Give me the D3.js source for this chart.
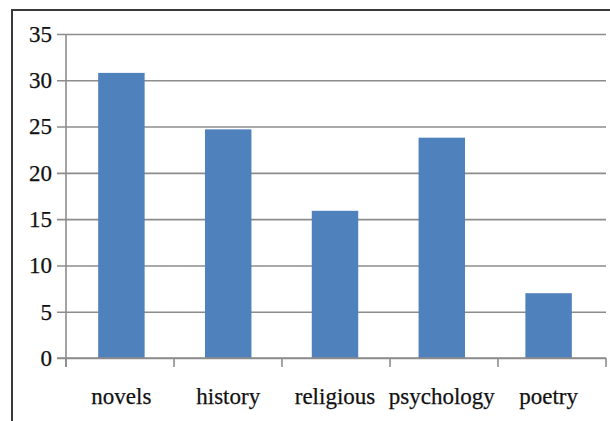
<!DOCTYPE html>
<html>
<head>
<meta charset="utf-8">
<script src="https://cdn.jsdelivr.net/npm/d3@7"></script>
<style>
  body { margin: 0; background: #fff; }
  svg { display: block; }
  text { font-family: 'Liberation Serif', 'Times New Roman', Times, serif; font-size: 23px; fill: #111; stroke: #111; stroke-width: 0.25px; }
</style>
</head>
<body>
<div class="chart"></div>
<script>
// values
var categories = ['novels', 'history', 'religious', 'psychology', 'poetry'];
var counts = [30.8, 24.7, 15.9, 23.8, 7.0];
var yTicks = [0, 5, 10, 15, 20, 25, 30, 35];

var W = 610, H = 421;
var plot = { left: 66, right: 606, top: 34, bottom: 358 };

var svg = d3.select('.chart')
  .append('svg')
  .attr('width', W)
  .attr('height', H);

// outer frame (runs off the right and bottom edge like the picture)
svg.append('rect')
  .attr('x', 12)
  .attr('y', 10)
  .attr('width', W + 20)
  .attr('height', H + 20)
  .style('fill', 'none')
  .style('stroke', '#3a3a3a')
  .style('stroke-width', 2);

// category slots for the axis ticks
var slotScale = d3.scaleBand()
  .domain(categories)
  .range([plot.left, plot.right]);

// bars sit a little inside the slots in the picture
var xScale = d3.scaleBand()
  .domain(categories)
  .range([plot.left + 2, plot.right - 4])
  .paddingInner(0.565)
  .paddingOuter(0.2825);

var yScale = d3.scaleLinear()
  .domain([0, 35])
  .range([plot.bottom, plot.top]);

// horizontal gridlines + left ticks
svg.append('g')
  .attr('class', 'yAxis')
  .attr('transform', 'translate(' + plot.left + ',0)')
  .call(d3.axisLeft(yScale)
    .tickValues(yTicks)
    .tickSize(-(plot.right - plot.left))
    .tickSizeOuter(0)
    .tickFormat(''))
  .call(g => g.select('.domain').remove())
  .call(g => g.selectAll('.tick line')
    .attr('x1', -9)
    .style('stroke', '#8c8c8c')
    .style('stroke-width', 1.6));

// y tick labels
svg.selectAll('.ylab')
  .data(yTicks)
  .enter()
  .append('text')
  .attr('class', 'ylab')
  .attr('x', 52)
  .attr('y', d => yScale(d))
  .attr('dy', '0.34em')
  .style('text-anchor', 'end')
  .text(d => d);

// vertical axis line
svg.append('line')
  .attr('x1', plot.left)
  .attr('x2', plot.left)
  .attr('y1', yScale(35))
  .attr('y2', plot.bottom + 9)
  .style('stroke', '#8c8c8c')
  .style('stroke-width', 1.6);

// bars
svg.selectAll('.bar')
  .data(counts)
  .enter()
  .append('rect')
  .attr('class', 'bar')
  .attr('x', (d, i) => xScale(categories[i]))
  .attr('width', xScale.bandwidth())
  .attr('y', d => yScale(d))
  .attr('height', d => yScale(0) - yScale(d))
  .style('fill', '#4f81bd');

// x axis with ticks between categories
var bounds = categories.map(c => slotScale(c)).concat([plot.right]);

svg.append('line')
  .attr('x1', plot.left - 9)
  .attr('x2', plot.right)
  .attr('y1', plot.bottom)
  .attr('y2', plot.bottom)
  .style('stroke', '#8c8c8c')
  .style('stroke-width', 1.6);

svg.selectAll('.xtick')
  .data(bounds)
  .enter()
  .append('line')
  .attr('class', 'xtick')
  .attr('x1', d => d)
  .attr('x2', d => d)
  .attr('y1', plot.bottom)
  .attr('y2', plot.bottom + 9)
  .style('stroke', '#8c8c8c')
  .style('stroke-width', 1.6);

svg.selectAll('.xlab')
  .data(categories)
  .enter()
  .append('text')
  .attr('class', 'xlab')
  .attr('x', d => xScale(d) + xScale.bandwidth() / 2)
  .attr('y', 404)
  .style('text-anchor', 'middle')
  .text(d => d);
</script>
</body>
</html>
